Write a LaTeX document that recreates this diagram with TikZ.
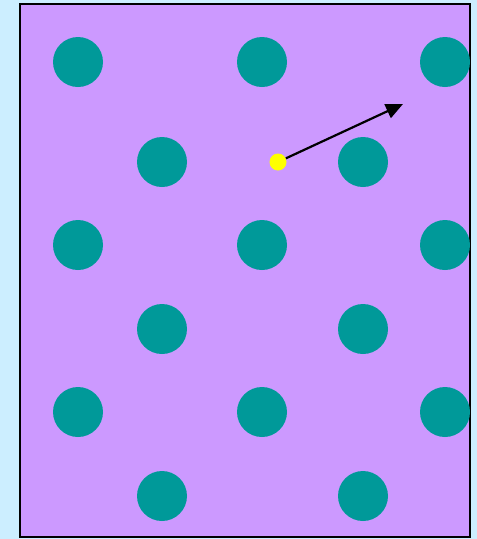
\documentclass[tikz,border=0pt]{standalone}
\usetikzlibrary{arrows.meta}
\definecolor{bgblue}{HTML}{CCEEFF}
\definecolor{lattice}{HTML}{CC99FF}
\definecolor{atom}{HTML}{009999}
\definecolor{dotyellow}{HTML}{FFFF00}
\begin{document}
\begin{tikzpicture}[x=1pt,y=-1pt,
  atomdot/.style={circle,fill=atom,minimum size=50pt,inner sep=0pt},
  ydot/.style={circle,fill=dotyellow,minimum size=17pt,inner sep=0pt},
  vec/.style={-{Triangle[length=17pt,width=15pt]},line width=2.2pt}]
\fill[bgblue] (0,0) rectangle (477,539);
\useasboundingbox (0,0) rectangle (477,539);
\filldraw[fill=lattice,draw=black,line width=1.8pt] (20,4) rectangle (470,537);
\foreach \y [count=\r] in {62,245,412} {
  \foreach \x [count=\c] in {78,262,445} {
    \node[atomdot] (a\r\c) at (\x,\y) {};
  }
}
\foreach \y [count=\r] in {162,329,496} {
  \foreach \x [count=\c] in {162,363} {
    \node[atomdot] (b\r\c) at (\x,\y) {};
  }
}
\node[ydot] (p) at (278,162) {};
\coordinate (tip) at (403,104);
\draw[vec] (p) -- (tip);
\end{tikzpicture}
\end{document}
